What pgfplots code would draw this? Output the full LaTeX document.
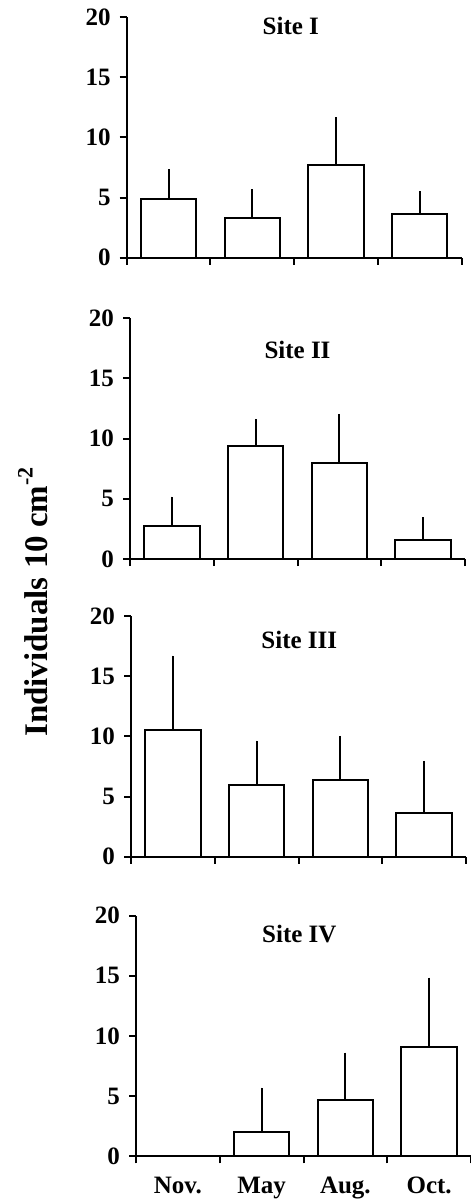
\documentclass[border=0pt]{standalone}
\usepackage{pgfplots}
\pgfplotsset{compat=1.18}
\usepackage{fontspec}
\setmainfont{Liberation Serif}

\pgfplotsset{
  sitepanel/.style={
    scale only axis,
    width=167.5pt, height=120.4pt,
    anchor=south west,
    xmin=0.5, xmax=4.5, ymin=0, ymax=20,
    axis lines=left,
    axis line style={-, line width=1pt},
    every tick/.style={line width=1pt, black},
    tick align=outside,
    major tick length=3.5pt,
    xtick={0.5,1.5,2.5,3.5,4.5},
    xticklabels={},
    ytick={0,5,10,15,20},
    /pgf/number format/assume math mode=true,
    tick label style={font=\bfseries\fontsize{12.5}{14}\selectfont},
    yticklabel style={xshift=-1pt},
    clip=false,
  },
  sitebar/.style={
    ybar, bar width=0.66, draw=black, fill=white, line width=1pt,
    error bars/.cd, y dir=plus, y explicit, error mark=none,
    error bar style={line width=1pt, black},
  },
}

\begin{document}
\begin{tikzpicture}
\useasboundingbox (0,0) rectangle (235.5pt,-600pt);

% Site I
\begin{axis}[sitepanel, at={(63.35pt,-128.85pt)}]
\addplot[sitebar] table[x=x, y=y, y error=e] {
x y e
1 4.87 2.49
2 3.32 2.38
3 7.72 3.93
4 3.62 1.94
};
\node[font=\bfseries\fontsize{12.5}{14}\selectfont] at (axis cs:2.46,19.27) {Site I};
\end{axis}

% Site II
\begin{axis}[sitepanel, at={(65pt,-279.5pt)}]
\addplot[sitebar] table[x=x, y=y, y error=e] {
x y e
1 2.75 2.44
2 9.39 2.25
3 7.94 4.12
4 1.58 1.89
};
\node[font=\bfseries\fontsize{12.5}{14}\selectfont] at (axis cs:2.5,17.4) {Site II};
\end{axis}

% Site III
\begin{axis}[sitepanel, at={(65.5pt,-428.35pt)}]
\addplot[sitebar] table[x=x, y=y, y error=e] {
x y e
1 10.50 6.20
2 5.93 3.71
3 6.37 3.66
4 3.60 4.35
};
\node[font=\bfseries\fontsize{12.5}{14}\selectfont] at (axis cs:2.51,18.0) {Site III};
\end{axis}

% Site IV
\begin{axis}[sitepanel, at={(68pt,-578.15pt)},
  extra x ticks={1,2,3,4},
  extra x tick labels={Nov.,May,Aug.,Oct.},
  extra x tick style={major tick length=0pt, xticklabel style={yshift=-7pt}},
]
\addplot[sitebar] table[x=x, y=y, y error=e] {
x y e
2 1.99 3.72
3 4.65 3.96
4 9.09 5.76
};
\node[font=\bfseries\fontsize{12.5}{14}\selectfont] at (axis cs:2.45,18.44) {Site IV};
\end{axis}

\node[rotate=90, font=\bfseries\fontsize{16.5}{18}\selectfont] at (16.5pt,-301pt) {Individuals 10 cm\raisebox{0.45em}{\fontsize{11}{12}\selectfont -2}};
\end{tikzpicture}
\end{document}
